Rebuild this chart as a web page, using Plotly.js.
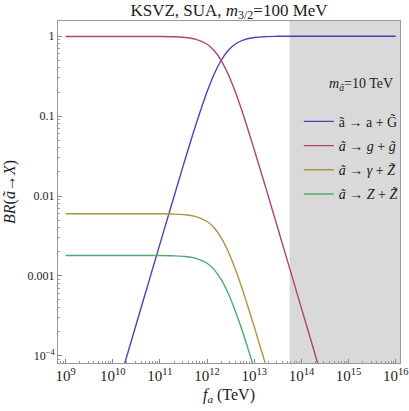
<!DOCTYPE html>
<html>
<head>
<meta charset="utf-8">
<script src="https://cdn.plot.ly/plotly-3.0.1.min.js"></script>
<style>
  body { margin: 0; background: #fff; }
  #chart { width: 409px; height: 411px; }
</style>
</head>
<body>
<div id="chart"></div>
<script>
// BR of axino decays vs f_a

// f_a values (TeV) for each curve
var fa_G = [1e10, 1.78e10, 3.16e10, 5.62e10, 1e11, 1.78e11, 3.16e11, 5.62e11, 1e12, 1.41e12, 2e12, 2.82e12, 3.98e12, 5.62e12, 1e13, 1.78e13, 3.16e13, 1e14, 3.16e14, 1e15, 3.16e15, 1e16];
var br_G = [2.5e-5, 7.9e-5, 2.5e-4, 7.9e-4, 2.5e-3, 7.9e-3, 0.0245, 0.0736, 0.201, 0.334, 0.5, 0.666, 0.799, 0.888, 0.962, 0.988, 0.996, 0.9996, 1.0, 1.0, 1.0, 1.0];

var fa_g = [1e9, 3.16e9, 1e10, 3.16e10, 1e11, 1.78e11, 3.16e11, 5.62e11, 1e12, 1.41e12, 2e12, 2.82e12, 3.98e12, 5.62e12, 1e13, 1.78e13, 3.16e13, 5.62e13, 1e14, 1.78e14, 3.16e14];
var br_g = [0.992, 0.992, 0.992, 0.9918, 0.9895, 0.984, 0.9677, 0.919, 0.793, 0.661, 0.496, 0.331, 0.1997, 0.1117, 0.038, 0.01235, 0.00394, 0.00125, 3.95e-4, 1.25e-4, 3.95e-5];

var fa_gam = [1e9, 3.16e9, 1e10, 3.16e10, 1e11, 1.78e11, 3.16e11, 5.62e11, 1e12, 1.41e12, 2e12, 2.82e12, 3.98e12, 5.62e12, 1e13, 1.78e13];
var br_gam = [0.006, 0.006, 0.006, 0.006, 0.00599, 0.00595, 0.00585, 0.00556, 0.0048, 0.004, 0.003, 0.00201, 0.00121, 0.000676, 0.00023, 7.46e-5];

var fa_Z = [1e9, 3.16e9, 1e10, 3.16e10, 1e11, 1.78e11, 3.16e11, 5.62e11, 1e12, 1.41e12, 2e12, 2.82e12, 3.98e12, 5.62e12, 1e13];
var br_Z = [0.0018, 0.0018, 0.0018, 0.0018, 0.0018, 0.001786, 0.001756, 0.001668, 0.001439, 0.001199, 0.0009, 0.000602, 0.000362, 0.000203, 6.9e-5];

// excluded region (gray band)
var excl_fa = [5.6e13, 2e16];

var names = [
  'ã → a + G\u0303',
  '<i>ã</i> → <i>g</i> + <i>g\u0303</i>',
  '<i>ã</i> → <i>γ</i> + <i>Z\u0303</i>',
  '<i>ã</i> → <i>Z</i> + <i>Z\u0303</i>'
];
var colors = ['#4646b4', '#ac4479', '#ab9640', '#4eaa72'];

var serif = 'Liberation Serif, Times New Roman, serif';

var traces = [{
  x: [excl_fa[0], excl_fa[1], excl_fa[1], excl_fa[0]],
  y: [1e-6, 1e-6, 100, 100],
  fill: 'toself',
  fillcolor: '#d9d9d9',
  line: { width: 0 },
  mode: 'lines',
  showlegend: false,
  hoverinfo: 'skip'
}];

var xs = [fa_G, fa_g, fa_gam, fa_Z];
var ys = [br_G, br_g, br_gam, br_Z];
for (var i = 0; i < 4; i++) {
  traces.push({
    x: xs[i],
    y: ys[i],
    mode: 'lines',
    name: names[i],
    legendgroup: 'g' + i,
    line: { color: colors[i], width: 1.4, shape: 'spline' }
  });
}

var layout = {
  width: 409,
  height: 411,
  margin: { l: 58, r: 6, t: 21, b: 48 },
  paper_bgcolor: '#fff',
  plot_bgcolor: '#fff',
  font: { family: serif, size: 12, color: '#222' },
  title: {
    text: 'KSVZ, SUA, <i>m</i><sub>3/2</sub>=100 MeV',
    font: { family: serif, size: 17, color: '#222' },
    x: 0.5, xref: 'paper',
    y: 0.976, yref: 'container', yanchor: 'middle'
  },
  xaxis: {
    type: 'log',
    range: [8.84, 16.09],
    dtick: 1,
    exponentformat: 'power',
    ticks: 'inside',
    ticklen: 4,
    tickcolor: '#888',
    ticklabeloverflow: 'allow',
    showgrid: false,
    zeroline: false,
    showline: true,
    linecolor: '#999',
    mirror: true,
    minor: { ticks: 'inside', ticklen: 2, tickcolor: '#999', dtick: 'D1', showgrid: false },
    tickfont: { family: serif, size: 12 },
    title: { text: '<i>f<sub>a</sub></i> (TeV)', font: { family: serif, size: 16 }, standoff: 5 }
  },
  yaxis: {
    type: 'log',
    range: [-4.09, 0.19],
    tickvals: [1e-4, 1e-3, 1e-2, 1e-1, 1],
    ticktext: ['10<sup>−4</sup>', '0.001', '0.01', '0.1', '1'],
    ticks: 'inside',
    ticklen: 4,
    tickcolor: '#888',
    showgrid: false,
    zeroline: false,
    showline: true,
    linecolor: '#999',
    mirror: true,
    minor: { ticks: 'inside', ticklen: 2, tickcolor: '#999', dtick: 'D1', showgrid: false },
    tickfont: { family: serif, size: 12 },
    title: { text: '<i>BR</i>(<i>ã</i>→<i>X</i>)', font: { family: serif, size: 16 }, standoff: 7 }
  },
  annotations: [{
    text: '<i>m</i><sub><i>ã</i></sub>=10 TeV',
    xref: 'paper', yref: 'paper',
    x: 0.986, y: 0.813,
    xanchor: 'right', yanchor: 'middle',
    showarrow: false,
    font: { family: serif, size: 14, color: '#222' }
  }],
  showlegend: true,
  legend: {
    x: 0.704, xanchor: 'left',
    y: 0.752, yanchor: 'top',
    bgcolor: 'rgba(0,0,0,0)',
    tracegroupgap: 3,
    font: { family: serif, size: 14, color: '#222' }
  }
};

Plotly.newPlot('chart', traces, layout, { staticPlot: true });
</script>
</body>
</html>
